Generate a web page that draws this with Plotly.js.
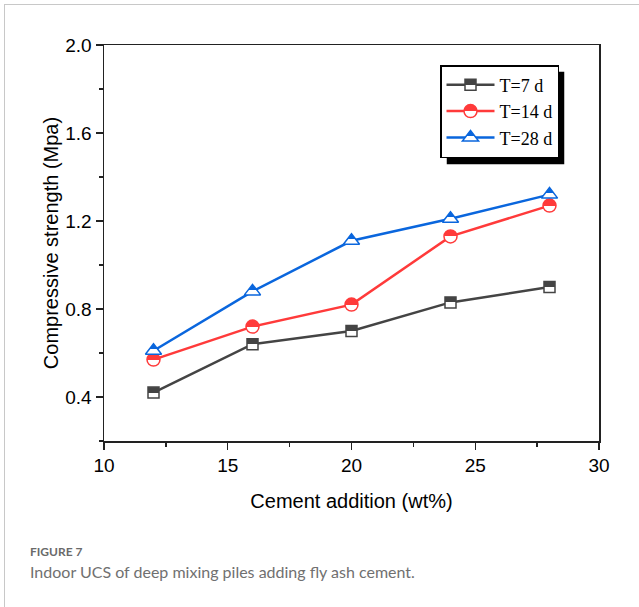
<!DOCTYPE html>
<html>
<head>
<meta charset="utf-8">
<script src="https://cdn.plot.ly/plotly-3.0.1.min.js"></script>
<style>
  html, body { margin: 0; padding: 0; background: #fff; }
  #wrap { position: relative; width: 639px; height: 607px; overflow: hidden; }
  #frame { position: absolute; left: 4px; top: 4px; width: 800px; height: 800px;
           border-top: 1px solid #c8c8c8; border-left: 1px solid #c8c8c8; }
  #chart { position: absolute; left: 0; top: 0; width: 639px; height: 607px; }
  .cap1 { position: absolute; left: 30px; top: 546px; font-family: Lato, "Open Sans", sans-serif;
          font-size: 12px; line-height: 1; color: #6a6a6a; font-weight: 700; white-space: nowrap; }
  .cap2 { position: absolute; left: 30px; top: 564px; font-family: Lato, "Open Sans", sans-serif;
          font-size: 16px; line-height: 1; color: #707070; font-weight: 400; white-space: nowrap; }
</style>
</head>
<body>
<div id="wrap">
  <div id="frame"></div>
  <div id="chart"></div>
  <div class="cap1">FIGURE 7</div>
  <div class="cap2">Indoor UCS of deep mixing piles adding fly ash cement.</div>
</div>
<script>
const cementAddition = [12, 16, 20, 24, 28];
const strength7d  = [0.42, 0.64, 0.70, 0.83, 0.90];
const strength14d = [0.57, 0.72, 0.82, 1.13, 1.27];
const strength28d = [0.61, 0.88, 1.11, 1.21, 1.32];
const seriesNames = ['T=7 d', 'T=14 d', 'T=28 d'];

const colors = ['#444444', '#ff3a3a', '#0a66dd'];
const symbols = ['square', 'circle', 'triangle-up'];
const sizes = [11, 13, 14];
const values = [strength7d, strength14d, strength28d];

const traces = values.map((v, i) => ({
  x: cementAddition, y: v, name: seriesNames[i], type: 'scatter', mode: 'lines+markers',
  line: { color: colors[i], width: 2.5 },
  marker: { symbol: symbols[i], size: sizes[i], color: colors[i],
            gradient: { type: 'vertical', color: '#ffffff' },
            line: { color: colors[i], width: 1.5 } },
  cliponaxis: false
}));

const L = 104, R = 40, T = 45, B = 166, W = 639, H = 607;
const pw = W - L - R, ph = H - T - B;
const px = v => (v - L) / pw;
const py = v => 1 - (v - T) / ph;

const layout = {
  width: W, height: H,
  margin: { l: L, r: R, t: T, b: B, pad: 0 },
  paper_bgcolor: 'rgba(0,0,0,0)', plot_bgcolor: 'rgba(0,0,0,0)',
  showlegend: true,
  font: { family: 'Liberation Sans, Arial, sans-serif', color: '#000' },
  xaxis: {
    range: [10, 30], tick0: 10, dtick: 5, ticks: 'outside', ticklen: 7, tickwidth: 1.3,
    tickcolor: '#222', showline: true, linecolor: '#222', linewidth: 1.5, mirror: true,
    showgrid: false, zeroline: false,
    minor: { dtick: 2.5, ticks: 'outside', ticklen: 4, tickwidth: 1.3, tickcolor: '#222', showgrid: false },
    tickfont: { size: 19, family: 'Liberation Sans, Arial, sans-serif' },
    title: { text: 'Cement addition (wt%)', font: { size: 20 }, standoff: 18 }
  },
  yaxis: {
    range: [0.2, 2.0], tick0: 0.4, dtick: 0.4, tickformat: '.1f', ticks: 'outside', ticklen: 7, tickwidth: 1.3,
    tickcolor: '#222', showline: true, linecolor: '#222', linewidth: 1.5, mirror: true,
    showgrid: false, zeroline: false,
    minor: { dtick: 0.2, ticks: 'outside', ticklen: 4, tickwidth: 1.3, tickcolor: '#222', showgrid: false },
    tickfont: { size: 19, family: 'Liberation Sans, Arial, sans-serif' },
    title: { text: 'Compressive strength (Mpa)', font: { size: 20 }, standoff: 1 }
  },
  legend: {
    x: px(440), y: py(65), xanchor: 'left', yanchor: 'top',
    bgcolor: '#ffffff', bordercolor: '#000', borderwidth: 1.5,
    font: { family: 'Liberation Serif, Times New Roman, serif', size: 18, color: '#000' },
    itemwidth: 48, tracegroupgap: 0
  },
  shapes: [{
    type: 'rect', xref: 'paper', yref: 'paper',
    x0: px(446), x1: px(568), y0: py(155), y1: py(71),
    fillcolor: '#000', line: { width: 0 }, layer: 'above'
  }]
};

function sharpenGradients(gd) {
  const NS = 'http://www.w3.org/2000/svg';
  gd.querySelectorAll('linearGradient').forEach(g => {
    const stops = g.querySelectorAll('stop');
    if (stops.length < 2) return;
    const c0 = stops[0].getAttribute('stop-color');
    const o0 = stops[0].getAttribute('stop-opacity') || '1';
    const c1 = stops[stops.length - 1].getAttribute('stop-color');
    const o1 = stops[stops.length - 1].getAttribute('stop-opacity') || '1';
    stops.forEach(s => s.remove());
    [[0, c0, o0], [50, c0, o0], [50, c1, o1], [100, c1, o1]].forEach(([off, c, o]) => {
      const s = document.createElementNS(NS, 'stop');
      s.setAttribute('offset', off + '%');
      s.setAttribute('stop-color', c);
      s.setAttribute('stop-opacity', o);
      g.appendChild(s);
    });
  });
}

Plotly.newPlot('chart', traces, layout, { displayModeBar: false, staticPlot: true }).then(gd => {
  const bg = gd.querySelector('.legend .bg');
  const box = gd.getBoundingClientRect();
  if (bg) {
    const r = bg.getBoundingClientRect();
    const left = r.left - box.left, top = r.top - box.top;
    const right = r.right - box.left, bottom = r.bottom - box.top;
    return Plotly.relayout(gd, {
      'shapes[0].x0': px(left + 6), 'shapes[0].x1': px(right + 6),
      'shapes[0].y0': py(bottom + 7), 'shapes[0].y1': py(top + 6)
    }).then(() => gd);
  }
  return gd;
}).then(gd => sharpenGradients(gd));
</script>
</body>
</html>
